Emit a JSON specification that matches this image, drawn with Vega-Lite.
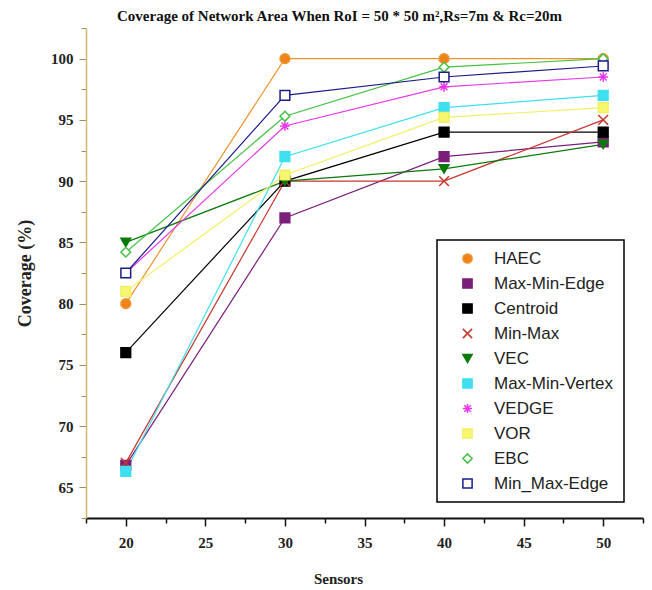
{
  "$schema": "https://vega.github.io/schema/vega-lite/v6.json",
  "width": 557,
  "height": 490,
  "autosize": "none",
  "padding": {"left": 86, "top": 28, "right": 9, "bottom": 72},
  "background": "white",
  "title": {
    "text": "Coverage of  Network Area When RoI = 50 * 50 m²,Rs=7m & Rc=20m",
    "font": "Liberation Serif",
    "fontSize": 15,
    "fontWeight": "bold",
    "color": "#111",
    "anchor": "start",
    "frame": "group",
    "dx": 31,
    "offset": 4
  },
  "data": {
    "values": [
      {"sensors": 20, "method": "HAEC", "coverage": 80},
      {"sensors": 30, "method": "HAEC", "coverage": 100},
      {"sensors": 40, "method": "HAEC", "coverage": 100},
      {"sensors": 50, "method": "HAEC", "coverage": 100},
      {"sensors": 20, "method": "Max-Min-Edge", "coverage": 66.8},
      {"sensors": 30, "method": "Max-Min-Edge", "coverage": 87},
      {"sensors": 40, "method": "Max-Min-Edge", "coverage": 92},
      {"sensors": 50, "method": "Max-Min-Edge", "coverage": 93.2},
      {"sensors": 20, "method": "Centroid", "coverage": 76},
      {"sensors": 30, "method": "Centroid", "coverage": 90},
      {"sensors": 40, "method": "Centroid", "coverage": 94},
      {"sensors": 50, "method": "Centroid", "coverage": 94},
      {"sensors": 20, "method": "Min-Max", "coverage": 67},
      {"sensors": 30, "method": "Min-Max", "coverage": 90},
      {"sensors": 40, "method": "Min-Max", "coverage": 90},
      {"sensors": 50, "method": "Min-Max", "coverage": 95},
      {"sensors": 20, "method": "VEC", "coverage": 85},
      {"sensors": 30, "method": "VEC", "coverage": 90},
      {"sensors": 40, "method": "VEC", "coverage": 91},
      {"sensors": 50, "method": "VEC", "coverage": 93},
      {"sensors": 20, "method": "Max-Min-Vertex", "coverage": 66.3},
      {"sensors": 30, "method": "Max-Min-Vertex", "coverage": 92},
      {"sensors": 40, "method": "Max-Min-Vertex", "coverage": 96},
      {"sensors": 50, "method": "Max-Min-Vertex", "coverage": 97},
      {"sensors": 20, "method": "VEDGE", "coverage": 82.5},
      {"sensors": 30, "method": "VEDGE", "coverage": 94.5},
      {"sensors": 40, "method": "VEDGE", "coverage": 97.7},
      {"sensors": 50, "method": "VEDGE", "coverage": 98.5},
      {"sensors": 20, "method": "VOR", "coverage": 81},
      {"sensors": 30, "method": "VOR", "coverage": 90.5},
      {"sensors": 40, "method": "VOR", "coverage": 95.2},
      {"sensors": 50, "method": "VOR", "coverage": 96},
      {"sensors": 20, "method": "EBC", "coverage": 84.2},
      {"sensors": 30, "method": "EBC", "coverage": 95.3},
      {"sensors": 40, "method": "EBC", "coverage": 99.3},
      {"sensors": 50, "method": "EBC", "coverage": 100},
      {"sensors": 20, "method": "Min_Max-Edge", "coverage": 82.5},
      {"sensors": 30, "method": "Min_Max-Edge", "coverage": 97},
      {"sensors": 40, "method": "Min_Max-Edge", "coverage": 98.5},
      {"sensors": 50, "method": "Min_Max-Edge", "coverage": 99.4}
    ]
  },
  "encoding": {
    "x": {
      "field": "sensors", "type": "quantitative",
      "scale": {"domain": [17.5, 52.5], "nice": false, "zero": false},
      "axis": {
        "title": "Sensors",
        "values": [17.5, 20, 22.5, 25, 27.5, 30, 32.5, 35, 37.5, 40, 42.5, 45, 47.5, 50, 52.5],
        "labelExpr": "datum.value % 5 === 0 ? datum.label : ''",
        "tickSize": {"condition": {"test": "datum.value % 5 === 0", "value": 8}, "value": 5},
        "tickColor": "#111",
        "tickWidth": 1.5,
        "domainColor": "#111",
        "domainWidth": 1.8,
        "labelPadding": 9,
        "labelFont": "Liberation Serif",
        "labelFontSize": 15,
        "labelFontWeight": "bold",
        "labelColor": "#222",
        "titleFont": "Liberation Serif",
        "titleFontSize": 15,
        "titleFontWeight": "bold",
        "titleColor": "#222",
        "titleX": 252,
        "titleY": 60,
        "titleBaseline": "middle",
        "grid": false
      }
    },
    "y": {
      "field": "coverage", "type": "quantitative",
      "scale": {"domain": [62.5, 102.5], "nice": false, "zero": false},
      "axis": {
        "title": "Coverage  (%)",
        "values": [62.5, 65, 67.5, 70, 72.5, 75, 77.5, 80, 82.5, 85, 87.5, 90, 92.5, 95, 97.5, 100, 102.5],
        "labelExpr": "datum.value % 5 === 0 ? datum.label : ''",
        "tickSize": {"condition": {"test": "datum.value % 5 === 0", "value": 7}, "value": 5},
        "tickColor": "#a08a60",
        "tickWidth": 1,
        "domainColor": "#d9b56a",
        "domainWidth": 1.5,
        "labelPadding": 6,
        "labelFont": "Liberation Serif",
        "labelFontSize": 15,
        "labelFontWeight": "bold",
        "labelColor": "#222",
        "titleFont": "Liberation Serif",
        "titleFontSize": 18,
        "titleFontWeight": "bold",
        "titleColor": "#222",
        "titleX": -61,
        "titleY": 245,
        "titleAngle": -90,
        "titleBaseline": "middle",
        "titleAlign": "center",
        "grid": false
      }
    },
    "stroke": {
      "field": "method", "type": "nominal", "title": null,
      "scale": {
        "domain": ["HAEC", "Max-Min-Edge", "Centroid", "Min-Max", "VEC", "Max-Min-Vertex", "VEDGE", "VOR", "EBC", "Min_Max-Edge"],
        "range": ["#f0922a", "#7b1f7b", "#000000", "#c8362c", "#0a7a0a", "#3ee0f0", "#e838e8", "#f2f060", "#44c244", "#1c1c8a"]
      }
    }
  },
  "layer": [
    {
      "mark": {"type": "line", "strokeWidth": 1.2},
      "encoding": {"detail": {"field": "method"}}
    },
    {
      "mark": {"type": "point", "size": 95, "strokeWidth": 1.5, "opacity": 1},
      "encoding": {
        "fill": {
          "field": "method", "type": "nominal", "title": null,
          "scale": {
            "domain": ["HAEC", "Max-Min-Edge", "Centroid", "Min-Max", "VEC", "Max-Min-Vertex", "VEDGE", "VOR", "EBC", "Min_Max-Edge"],
            "range": ["#f0821a", "#7b1f7b", "#000000", "transparent", "#0a7a0a", "#3ee0f0", "transparent", "#f8f870", "white", "white"]
          }
        },
        "shape": {
          "field": "method", "type": "nominal", "title": null,
          "scale": {
            "domain": ["HAEC", "Max-Min-Edge", "Centroid", "Min-Max", "VEC", "Max-Min-Vertex", "VEDGE", "VOR", "EBC", "Min_Max-Edge"],
            "range": ["circle", "square", "square", "M-1,-1L1,1M-1,1L1,-1", "triangle-down", "square", "M-1,0L1,0M0,-1L0,1M-0.7,-0.7L0.7,0.7M-0.7,0.7L0.7,-0.7", "square", "diamond", "square"]
          }
        }
      }
    }
  ],
  "config": {
    "view": {"stroke": null},
    "legend": {
      "orient": "none",
      "legendX": 351,
      "legendY": 212,
      "padding": 10,
      "strokeColor": "#000",
      "strokeWidth": 1.5,
      "fillColor": "white",
      "labelFont": "Liberation Sans",
      "labelFontSize": 17,
      "labelColor": "#222",
      "symbolSize": 85,
      "symbolStrokeWidth": 1.5,
      "rowPadding": 7,
      "symbolOffset": 12,
      "labelOffset": 18,
      "labelLimit": 220
    }
  }
}
